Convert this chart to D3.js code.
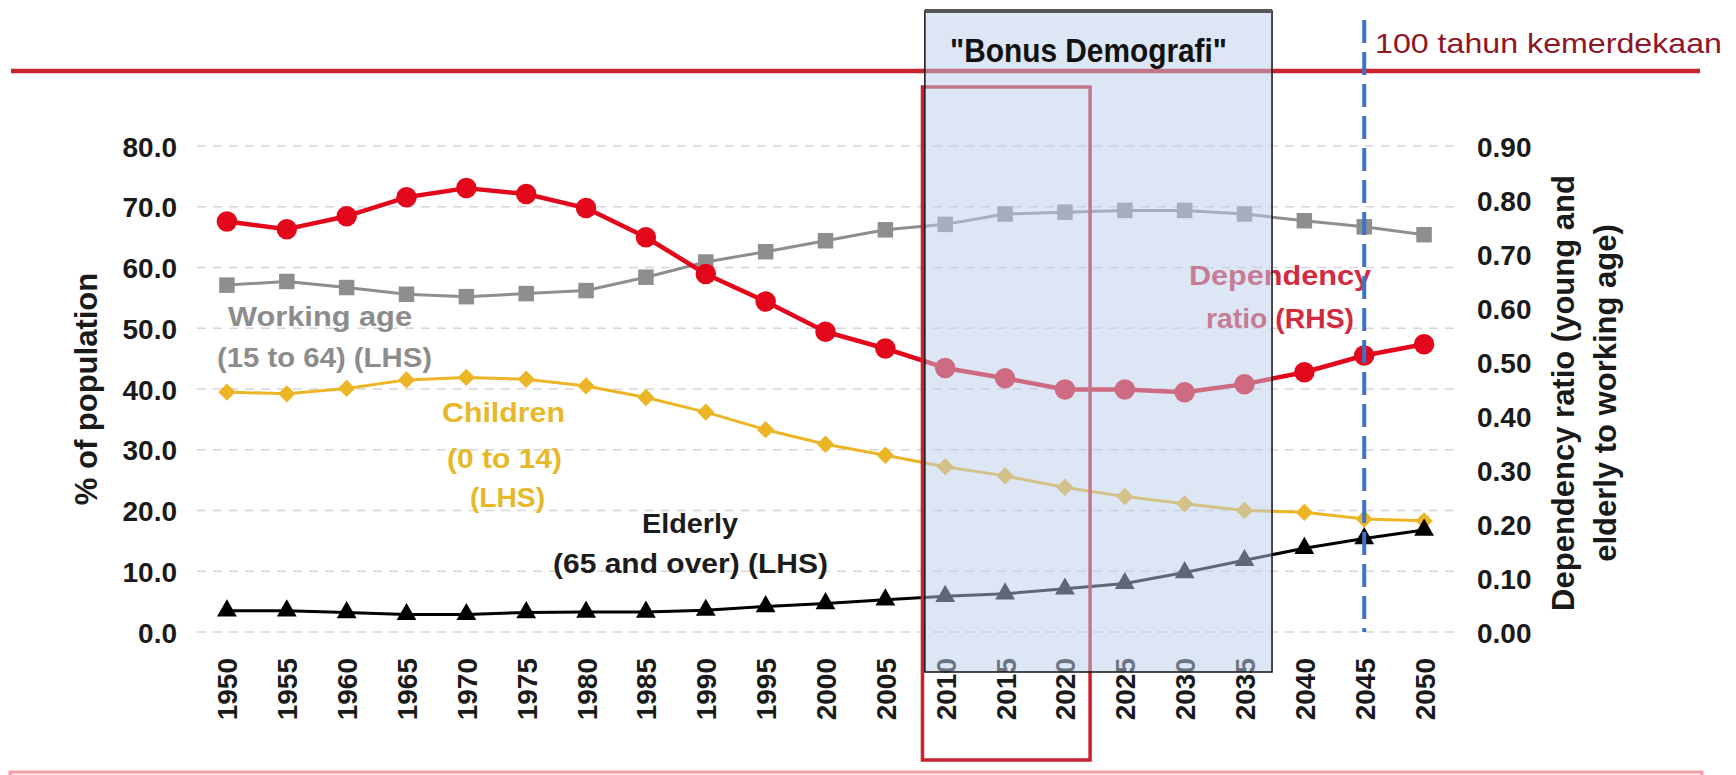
<!DOCTYPE html>
<html>
<head>
<meta charset="utf-8">
<script src="https://cdn.jsdelivr.net/npm/d3@7"></script>
<style>
  body { margin:0; background:#fff; overflow:hidden; }
  svg { display:block; }
</style>
</head>
<body>
<div id="chart"></div>
<script>
// data
const years = [1950,1955,1960,1965,1970,1975,1980,1985,1990,1995,2000,2005,2010,2015,2020,2025,2030,2035,2040,2045,2050]
const workingAge = [57.1,57.7,56.7,55.6,55.2,55.7,56.2,58.4,60.9,62.6,64.4,66.2,67.1,68.8,69.1,69.4,69.4,68.8,67.7,66.7,65.4]
const children = [39.5,39.2,40.1,41.5,41.9,41.6,40.5,38.6,36.2,33.3,30.9,29.1,27.2,25.7,23.8,22.3,21.1,20.0,19.7,18.6,18.3]
const elderly = [3.5,3.5,3.2,2.9,2.9,3.2,3.3,3.3,3.6,4.2,4.7,5.3,5.9,6.3,7.1,8.0,9.8,11.8,13.8,15.4,16.8]
const dependency = [0.760,0.746,0.770,0.805,0.822,0.811,0.785,0.731,0.663,0.612,0.556,0.525,0.489,0.470,0.449,0.449,0.444,0.459,0.481,0.512,0.533]
const leftTicks = [0,10,20,30,40,50,60,70,80]
const rightTicks = [0,0.1,0.2,0.3,0.4,0.5,0.6,0.7,0.8,0.9]
const bonusSpan = [2008.3,2037.3]
const nowSpan = [2008.1,2022.1]
const centenaryYear = 2045

let width = 1736, height = 775,
    margin = { top:146, left:197, right:282, bottom:143 },
    innerWidth = width - margin.left - margin.right,
    innerHeight = height - margin.top - margin.bottom
const font = "Liberation Sans, Arial, sans-serif"
const narrow = "Liberation Sans Narrow, Liberation Sans, sans-serif"

let svg = d3.select("#chart").append("svg")
            .attr("width",width)
            .attr("height",height)

let xScale = d3.scalePoint().domain(years).range([0,innerWidth]).padding(0.5)
// continuous year scale for the annotation boxes
let xYear = d3.scaleLinear().domain([years[0],years[years.length-1]])
              .range([xScale(years[0]),xScale(years[years.length-1])])
let yLeft = d3.scaleLinear().domain([0,80]).range([innerHeight,0])
let yRight = d3.scaleLinear().domain([0,0.9]).range([innerHeight,0])

let g = svg.append("g").attr("transform",`translate(${margin.left},${margin.top})`)

// dashed grid
g.append("g").selectAll("line").data(leftTicks).enter().append("line")
  .attr("x1",0).attr("x2",innerWidth)
  .attr("y1",d=>yLeft(d)).attr("y2",d=>yLeft(d))
  .attr("stroke","#d6d6d6").attr("stroke-width",1.5)
  .attr("stroke-dasharray","9,7")

// axes
let xAxis = d3.axisBottom(xScale).tickSize(0).tickPadding(0)
let yAxis = d3.axisLeft(yLeft).tickValues(leftTicks).tickFormat(d3.format(".1f")).tickSize(0).tickPadding(20)
let yAxis2 = d3.axisRight(yRight).tickValues(rightTicks).tickFormat(d3.format(".2f")).tickSize(0).tickPadding(23)

let xGroup = g.append("g").attr("transform",`translate(0,${innerHeight})`).call(xAxis)
let yGroup = g.append("g").call(yAxis)
let yGroup2 = g.append("g").attr("transform",`translate(${innerWidth},0)`).call(yAxis2)
;[xGroup,yGroup,yGroup2].forEach(a=>{
  a.attr("font-size",28).attr("font-family",font).attr("font-weight","bold").attr("fill","#1a1a1a")
  a.select(".domain").remove()
  a.selectAll("text").attr("fill","#1a1a1a").attr("dy",null).attr("y",10)
})
xGroup.selectAll("text")
  .attr("transform","rotate(-90)")
  .attr("text-anchor","end")
  .attr("x",-26).attr("y",10)

// axis titles
g.append("text")
  .attr("transform",`translate(${97-margin.left},${389-margin.top}) rotate(-90)`)
  .attr("text-anchor","middle")
  .attr("font-family",font).attr("font-size",31).attr("font-weight","bold").attr("fill","#1a1a1a")
  .text("% of population")
g.append("g")
  .attr("transform",`translate(${1574-margin.left},${393-margin.top}) rotate(-90)`)
  .selectAll("text").data(["Dependency ratio (young and","elderly to working age)"]).enter().append("text")
  .attr("x",0).attr("y",(d,i)=>i*42)
  .attr("text-anchor","middle")
  .attr("font-family",font).attr("font-size",31).attr("font-weight","bold").attr("fill","#1a1a1a")
  .text(d=>d)

// series
function drawSeries(values, scale, color, lw, symbol, size, rotate){
  let pts = years.map((y,i)=>({year:y, value:values[i]}))
  let line = d3.line().x(d=>xScale(d.year)).y(d=>scale(d.value))
  g.append("path").attr("d",line(pts))
    .attr("fill","none").attr("stroke",color).attr("stroke-width",lw)
    .attr("stroke-linejoin","round")
  g.append("g").selectAll("path").data(pts).enter().append("path")
    .attr("d",d3.symbol().type(symbol).size(size))
    .attr("transform",d=>`translate(${xScale(d.year)},${scale(d.value)}) rotate(${rotate})`)
    .attr("fill",color)
}
drawSeries(workingAge, yLeft, "#8e8e8e", 3, d3.symbolSquare, 240, 0)
drawSeries(children, yLeft, "#ebb526", 3, d3.symbolSquare, 150, 45)
drawSeries(elderly, yLeft, "#000000", 3, d3.symbolTriangle, 170, 0)
drawSeries(dependency, yRight, "#e2071b", 4.5, d3.symbolCircle, 330, 0)

// series labels
function label(lines, color){
  lines.forEach(l=>{
    g.append("text")
      .attr("x",l[0]-margin.left).attr("y",l[2]-margin.top)
      .attr("textLength",l[1]-l[0]).attr("lengthAdjust","spacingAndGlyphs")
      .attr("font-family",font).attr("font-size",l[4]).attr("font-weight","bold").attr("fill",color)
      .text(l[3])
  })
}
label([[228,412,326,"Working age",28],[217,432,367,"(15 to 64) (LHS)",28]], "#8c8c8c")
label([[442,565,422,"Children",28],[447,562,468,"(0 to 14)",28],[470,545,507,"(LHS)",28]], "#e6b82a")
label([[642,738,533,"Elderly",27],[553,828,573,"(65 and over) (LHS)",27]], "#1c1c1c")
label([[1189,1371,285,"Dependency",27],[1206,1354,328,"ratio (RHS)",27]], "#d22a3e")

// red "now" frame
let nx0 = margin.left+xYear(nowSpan[0]), nx1 = margin.left+xYear(nowSpan[1])
svg.append("rect")
  .attr("x",nx0).attr("y",87).attr("width",nx1-nx0).attr("height",673)
  .attr("fill","none").attr("stroke","#cc1f2f").attr("stroke-width",3.5)

// top red rule
svg.append("line").attr("x1",11).attr("x2",1700).attr("y1",71).attr("y2",71)
  .attr("stroke","#c9232f").attr("stroke-width",4.5)

// bonus demografi overlay
let bx0 = margin.left+xYear(bonusSpan[0]), bx1 = margin.left+xYear(bonusSpan[1])
svg.append("rect")
  .attr("x",bx0).attr("y",11).attr("width",bx1-bx0).attr("height",661)
  .attr("fill","#b9cde9").attr("fill-opacity",0.5)
  .attr("stroke","#111").attr("stroke-width",1.5)
svg.append("line").attr("x1",bx0).attr("x2",bx1).attr("y1",11).attr("y2",11)
  .attr("stroke","#555").attr("stroke-width",4)
svg.append("text").attr("x",950).attr("y",62)
  .attr("textLength",277).attr("lengthAdjust","spacingAndGlyphs")
  .attr("font-size",33).attr("font-weight","bold").attr("fill","#111")
  .attr("font-family",narrow)
  .text("\"Bonus Demografi\"")

// 2045 marker
let cx = margin.left+xScale(centenaryYear)
svg.append("line").attr("x1",cx).attr("x2",cx).attr("y1",20).attr("y2",632)
  .attr("stroke","#3b74c6").attr("stroke-width",4).attr("stroke-dasharray","23,9")
svg.append("text").attr("x",1375).attr("y",53)
  .attr("textLength",347).attr("lengthAdjust","spacingAndGlyphs")
  .attr("font-size",28).attr("fill","#8e1626")
  .attr("font-family",narrow)
  .text("100  tahun kemerdekaan")

// bottom pink rule
svg.append("rect").attr("x",10).attr("y",772).attr("width",1692).attr("height",10)
  .attr("fill","#fdf2f3").attr("stroke","#f2a0a6").attr("stroke-width",3)

// pin every other text to its natural width
svg.selectAll("text").filter(function(){ return !this.hasAttribute("textLength") })
  .each(function(){ d3.select(this).attr("textLength",this.getComputedTextLength()) })
</script>
</body>
</html>
